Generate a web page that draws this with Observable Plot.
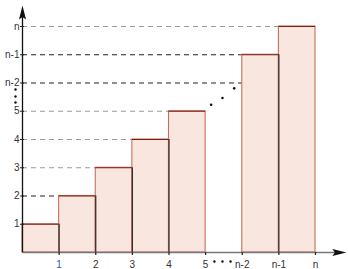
<!DOCTYPE html>
<html>
<head>
<meta charset="utf-8">
<script src="https://cdn.jsdelivr.net/npm/d3@7"></script>
<script src="https://cdn.jsdelivr.net/npm/@observablehq/plot@0.6"></script>
<style>
  html, body { margin: 0; padding: 0; background: #fff; }
</style>
</head>
<body>
<div id="chart"></div>
<script>
// ---- data ----
const tickPositions = [1, 2, 3, 4, 5, 6, 7, 8];
const xTickLabels = ["1", "2", "3", "4", "5", "n-2", "n-1", "n"];
const yTickLabels = ["1", "2", "3", "4", "5", "n-2", "n-1", "n"];
const barStarts = [0, 1, 2, 3, 4, 6, 7];
const barHeights = [1, 2, 3, 4, 5, 7, 8];
const dashLevels = [2, 3, 4, 5, 6, 7, 8];
const dashEnds = [1, 2, 3, 4, 6, 6, 7];
const dashDark = [true, false, false, false, true, true, false];
const sharedEdgeX = [1, 2, 3, 4, 7];
const sharedEdgeTop = [1, 2, 3, 4, 7];
const yAxisDotsY = [5.77, 5.52, 5.31];
const xAxisDotsX = [5.24, 5.46, 5.68];
const diagDotsX = [5.15, 5.46, 5.78];
const diagDotsY = [5.23, 5.47, 5.81];

const bars = barStarts.map((x0, i) => ({x1: x0, x2: x0 + 1, h: barHeights[i]}));
const dashes = dashLevels.map((y, i) => ({y, x2: dashEnds[i], dark: dashDark[i]}));
const shared = sharedEdgeX.map((x, i) => ({x, top: sharedEdgeTop[i]}));
const xTicks = tickPositions.map((p, i) => ({p, label: xTickLabels[i]}));
const yTicks = tickPositions.map((p, i) => ({p, label: yTickLabels[i]}));
const diagDots = diagDotsX.map((x, i) => ({x, y: diagDotsY[i]}));

const arrowSymbol = {
  draw(ctx) {
    ctx.moveTo(0, -10);
    ctx.lineTo(-3.5, 4);
    ctx.lineTo(0, 1.5);
    ctx.lineTo(3.5, 4);
    ctx.closePath();
  }
};

const xMax = 8.819, yMax = 8.743;
const xArrowAt = 8.57, yArrowAt = 8.39;

const chart = Plot.plot({
  width: 348,
  height: 269,
  marginLeft: 22,
  marginRight: 3,
  marginTop: 5,
  marginBottom: 17,
  x: {type: "linear", domain: [0, xMax], axis: null},
  y: {type: "linear", domain: [0, yMax], axis: null},
  style: {fontFamily: "Liberation Sans, Arial, sans-serif", fontSize: "10px", background: "#fff"},
  marks: [
    // dashed guide lines
    Plot.ruleY(dashes.filter(d => d.dark), {y: "y", x1: 0, x2: "x2", stroke: "#222", strokeWidth: 1.2, strokeDasharray: "5,4"}),
    Plot.ruleY(dashes.filter(d => !d.dark), {y: "y", x1: 0, x2: "x2", stroke: "#9a9a9a", strokeWidth: 1.2, strokeDasharray: "5,4"}),
    // bars
    Plot.rect(bars, {x1: "x1", x2: "x2", y1: 0, y2: "h", fill: "#f9e6de", stroke: "#c4705c", strokeWidth: 1.1}),
    // shared edges
    Plot.ruleX(shared, {x: "x", y1: 0, y2: "top", stroke: "#2a2a2a", strokeWidth: 1.2}),
    // bar tops
    Plot.ruleY(bars, {y: "h", x1: "x1", x2: "x2", stroke: "#7e1c12", strokeWidth: 1.2}),
    // axes
    Plot.ruleY([0], {y: 0, x1: 0, x2: xArrowAt, stroke: "#777", strokeWidth: 1.5}),
    Plot.ruleX([0], {x: 0, y1: 0, y2: yArrowAt, stroke: "#111", strokeWidth: 1.3}),
    Plot.dot([0], {x: xArrowAt, y: 0, symbol: arrowSymbol, fill: "#111", stroke: null, rotate: 90}),
    Plot.dot([0], {x: 0, y: yArrowAt, symbol: arrowSymbol, fill: "#111", stroke: null}),
    // axis tick marks
    Plot.ruleX(xTicks, {x: "p", y1: 0, y2: 0, insetBottom: -3, stroke: "#222", strokeWidth: 1.2}),
    Plot.ruleY(yTicks, {y: "p", x1: 0, x2: 0, insetLeft: -2, insetRight: -2, stroke: "#222", strokeWidth: 1}),
    // tick labels
    Plot.text(xTicks, {x: "p", y: 0, text: "label", dy: 12, fill: d => d.label === "1" ? "#3b4fc4" : "#333"}),
    Plot.text(yTicks, {x: 0, y: "p", text: "label", dx: -3, textAnchor: "end", fill: "#333"}),
    // ellipsis dots
    Plot.dot(yAxisDotsY, {x: 0, y: d => d, dx: -7, r: 1.2, fill: "#111"}),
    Plot.dot(xAxisDotsX, {x: d => d, y: 0, dy: 9, r: 1.2, fill: "#111"}),
    Plot.dot(diagDots, {x: "x", y: "y", r: 1.3, fill: "#111"})
  ]
});
document.getElementById("chart").appendChild(chart);
</script>
</body>
</html>
